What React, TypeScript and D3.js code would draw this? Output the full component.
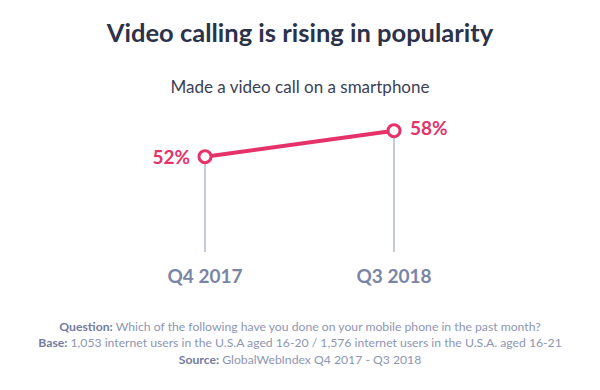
import React from "react";
import * as d3 from "d3";

const categories = ["Q4 2017", "Q3 2018"];
const values = [52, 58];
const valueLabels = ["52%", "58%"];
const title = "Video calling is rising in popularity";
const subtitle = "Made a video call on a smartphone";
const footer = [
  { label: "Question:", text: " Which of the following have you done on your mobile phone in the past month?" },
  { label: "Base:", text: " 1,053 internet users in the U.S.A aged 16-20 / 1,576 internet users in the U.S.A. aged 16-21" },
  { label: "Source:", text: " GlobalWebIndex Q4 2017 - Q3 2018" },
];

const W = 600;
const H = 390;
const PINK = "#e5336a";
const FONT = "Lato, 'Open Sans', sans-serif";

export default function App() {
  const x = d3.scalePoint<string>().domain(categories).range([205, 394]);
  const y = d3.scaleLinear().domain([30, 60]).range([252, 122]);
  const line = d3
    .line<number>()
    .x((_, i) => x(categories[i]) as number)
    .y((d) => y(d));

  return (
    <svg width={W} height={H} style={{ position: "absolute", left: 0, top: 0, background: "#fff" }}>
      <text x={300} y={42} textAnchor="middle" fontFamily={FONT} fontWeight={700} fontSize={25.5} fill="#2b3249">
        {title}
      </text>
      <text x={300} y={92.5} textAnchor="middle" fontFamily={FONT} fontSize={17} fill="#3b4156">
        {subtitle}
      </text>
      {categories.map((c, i) => (
        <line
          key={"v" + c}
          x1={x(c)}
          x2={x(c)}
          y1={y(values[i])}
          y2={y(30)}
          stroke="#c3cadf"
          strokeWidth={2}
        />
      ))}
      <path d={line(values) || ""} fill="none" stroke={PINK} strokeWidth={4} />
      {categories.map((c, i) => (
        <circle key={"c" + c} cx={x(c)} cy={y(values[i])} r={6} fill="#fff" stroke={PINK} strokeWidth={3} />
      ))}
      {categories.map((c, i) => (
        <text
          key={"l" + c}
          x={(x(c) as number) + (i === 0 ? -15 : 16)}
          y={y(values[i]) + (i === 0 ? 7 : 4)}
          textAnchor={i === 0 ? "end" : "start"}
          fontFamily={FONT}
          fontWeight={700}
          fontSize={19}
          fill={PINK}
        >
          {valueLabels[i]}
        </text>
      ))}
      {categories.map((c) => (
        <text
          key={"x" + c}
          x={x(c)}
          y={283}
          textAnchor="middle"
          fontFamily={FONT}
          fontWeight={700}
          fontSize={19}
          fill="#7a85a6"
        >
          {c}
        </text>
      ))}
      {footer.map((f, i) => (
        <text key={"f" + i} x={300} y={330.5 + i * 16.5} textAnchor="middle" fontFamily={FONT} fontSize={12.2} fill="#8d96b3">
          <tspan fontWeight={700} fill="#717c9d">{f.label}</tspan>
          <tspan>{f.text}</tspan>
        </text>
      ))}
    </svg>
  );
}
